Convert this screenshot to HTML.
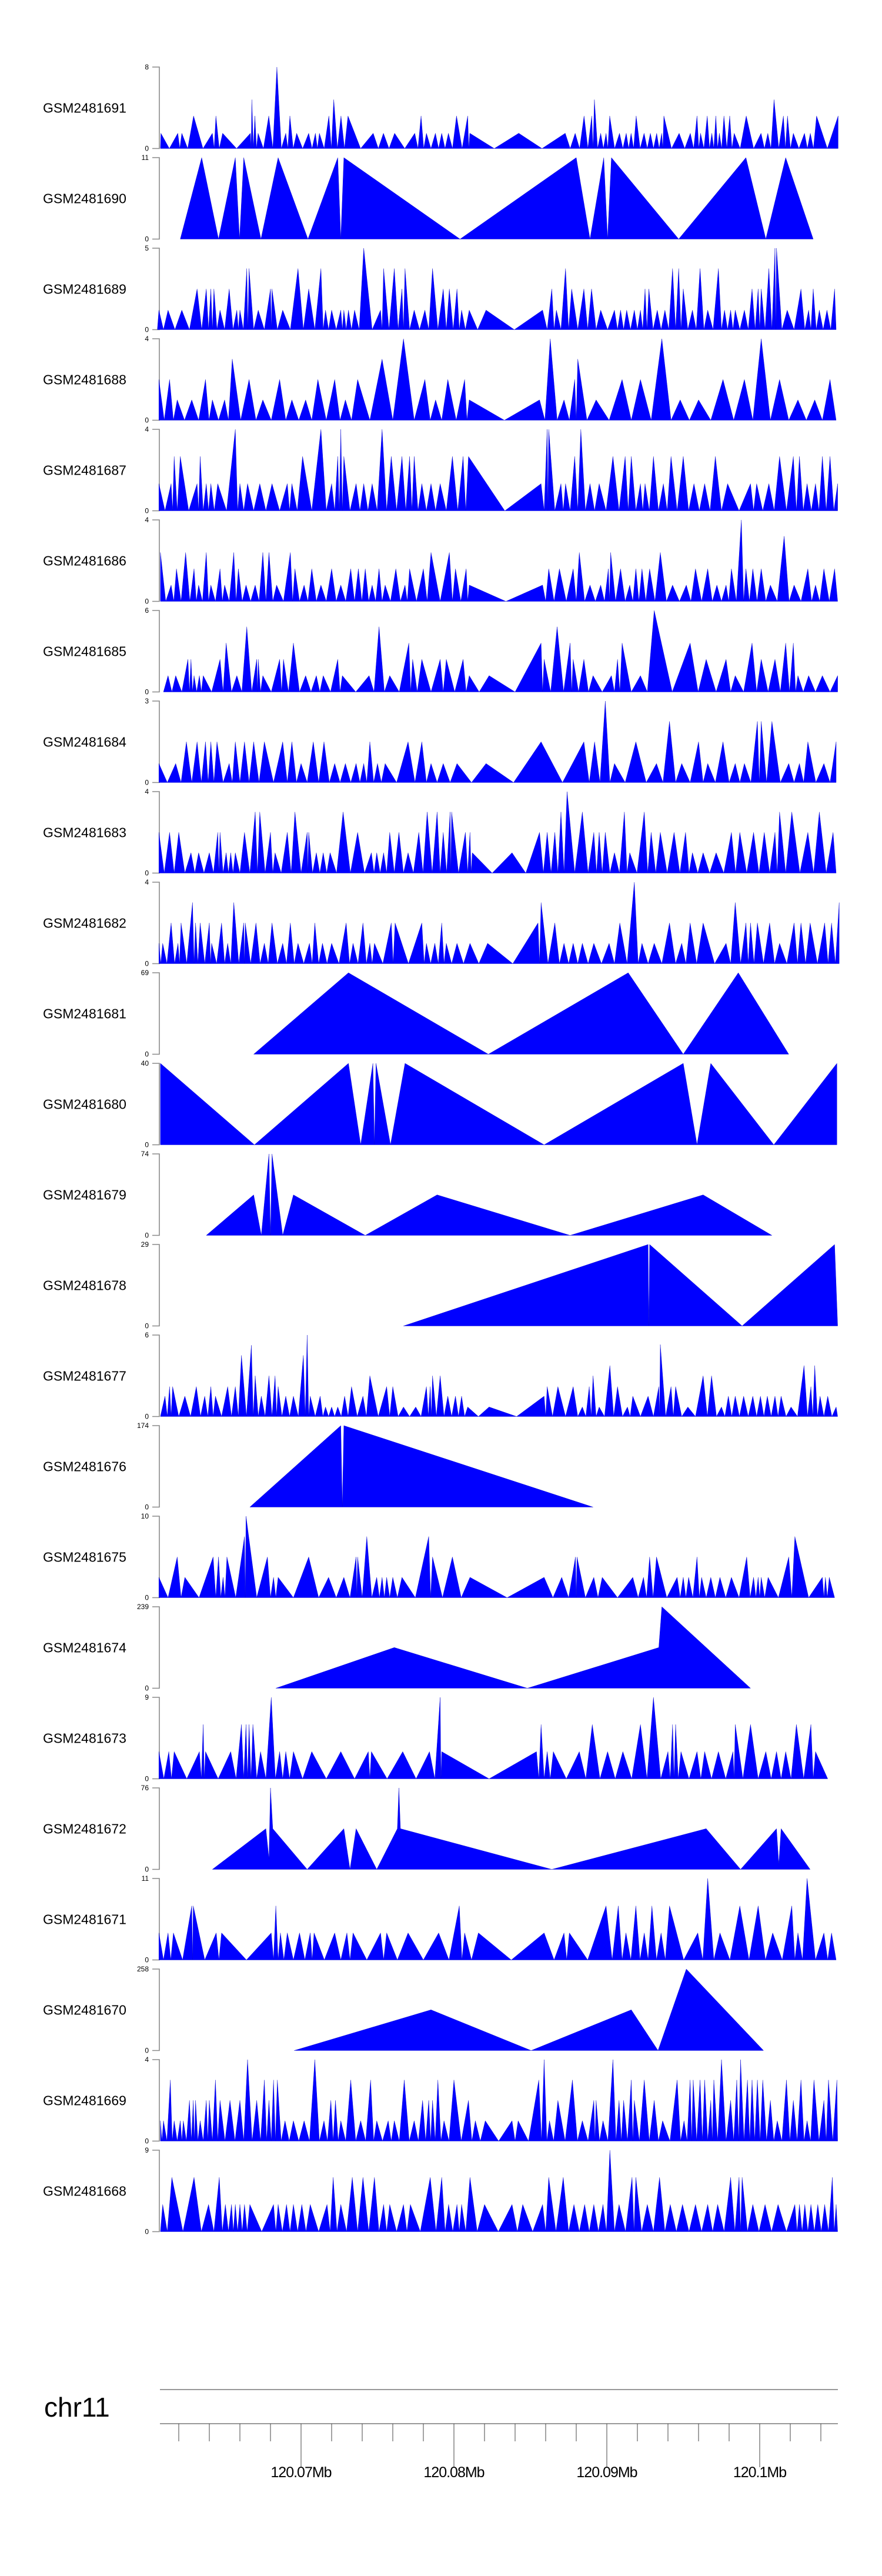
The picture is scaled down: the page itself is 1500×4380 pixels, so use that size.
<!DOCTYPE html>
<html><head><meta charset="utf-8"><title>Coverage tracks chr11</title>
<style>
html,body{margin:0;padding:0;background:#fff;}
svg{display:block;font-family:"Liberation Sans",Arial,sans-serif;}
</style></head>
<body>
<svg id="chart" width="1500" height="4380" viewBox="0 0 1500 4380" xmlns="http://www.w3.org/2000/svg">
<rect x="0" y="0" width="1500" height="4380" fill="#fff"/>
</svg>
<script>
// ---- data (positions in kb offset from 120,060,000; coverage values) ----
const trackNames = ["GSM2481691","GSM2481690","GSM2481689","GSM2481688","GSM2481687","GSM2481686","GSM2481685","GSM2481684","GSM2481683","GSM2481682","GSM2481681","GSM2481680","GSM2481679","GSM2481678","GSM2481677","GSM2481676","GSM2481675","GSM2481674","GSM2481673","GSM2481672","GSM2481671","GSM2481670","GSM2481669","GSM2481668"];
const yMax = [8,11,5,4,4,4,6,3,4,4,69,40,74,29,6,174,10,239,9,76,11,258,4,9];
const trackStart = [0.8,2.1,0.6,0.7,0.7,0.8,1.0,0.7,0.7,0.7,6.9,0.8,3.8,16.7,0.8,6.65,0.7,null,0.7,null,0.7,null,0.8,0.8];
const trackEnd = [45.13,43.5,45.0,45.0,45.1,45.1,45.1,45.0,45.0,45.2,41.9,45.05,40.8,45.1,45.1,29.1,44.9,null,44.45,null,45.0,null,45.1,45.1];
// explicit = polyline vertices given directly; otherwise zeros are placed between peaks
const explicitTracks = ["GSM2481674","GSM2481672","GSM2481670"];

const pos_1691 = [0.83,1.94,2.2,2.97,4.2,4.43,4.87,6.69,6.78,6.98, 7.19,7.89,8.42,9.0,9.27,9.71,10.5,10.94,11.2,11.82, 12.14,12.61,13.07,14.72,15.39,16.12,17.44,17.85,18.2,18.79, 19.2,19.64,20.17,20.9,21.04,24.24,27.28,27.93,28.51,29.01, 29.19,29.6,29.95,30.19,30.83,31.27,31.59,31.92,32.44,32.85, 33.26,33.59,33.73,34.73,35.46,35.9,36.13,36.57,36.87,37.13, 37.36,37.66,38.04,38.33,39.12,40.09,40.53,40.94,41.55,41.82, 42.2,42.93,43.31,43.72,45.13];
const cov_1691 = [1.5,1.5,1.5,3.2,1.5,3.2,1.5,1.5,4.8,3.2, 1.5,3.2,8,1.5,3.2,1.5,1.5,1.5,1.5,3.2, 4.8,3.2,3.2,1.5,1.5,1.5,1.5,3.2,1.5,1.5, 1.5,1.5,3.2,3.2,1.5,1.5,1.5,1.5,3.2,3.2, 4.8,1.5,1.5,3.2,1.5,1.5,1.5,3.2,1.5,1.5, 1.5,1.5,3.2,1.5,1.5,3.2,1.5,3.2,1.5,3.2, 1.5,3.2,3.2,1.5,3.2,1.5,1.5,4.8,3.2,3.2, 1.5,1.5,1.5,3.2,3.2];

const pos_1690 = [3.5,5.7,6.25,8.5,12.4,12.8,28.0,29.8,30.3,39.1,41.7];
const cov_1690 = [11,11,11,11,11,11,11,11,11,11,11];

const pos_1689 = [0.7,1.3,2.2,3.2,3.8,4.1,4.3,4.7,5.3,5.8, 6.0,6.45,6.6,7.2,8.0,8.1,8.8,9.8,10.5,11.3, 11.6,12.0,12.6,12.8,13.1,13.5,14.1,15.2,15.4,16.1, 16.6,16.8,17.4,18.1,18.6,19.3,19.7,20.2,20.5,21.0, 22.1,25.8,26.4,26.7,27.3,27.7,28.5,29.0,29.6,30.5, 30.9,31.3,31.8,32.2,32.5,32.75,33.3,33.8,34.3,34.7, 35.0,35.6,36.1,36.6,37.3,37.7,38.1,38.4,39.0,39.5, 39.9,40.1,40.6,41.0,41.1,41.8,42.7,43.2,43.5,43.9, 44.4,44.9];
const cov_1689 = [1.2,1.2,1.2,2.5,2.5,2.5,2.5,1.2,2.5,1.2, 1.2,3.75,3.75,1.2,2.5,2.5,1.2,3.75,2.5,3.75, 1.2,1.2,1.2,1.2,1.2,1.2,5,1.2,3.75,3.75, 2.5,3.75,1.2,1.2,3.75,2.5,2.5,2.5,1.2,1.2, 1.2,1.2,2.5,1.2,3.75,2.5,2.5,2.5,1.2,1.2, 1.2,1.2,1.2,1.2,2.5,2.5,1.2,1.2,3.75,3.75, 2.5,1.2,3.75,1.2,3.75,1.2,1.2,1.2,1.2,2.5, 2.5,2.5,3.75,5,5,1.2,2.5,1.2,2.5,1.2, 1.2,2.5];

const pos_1688 = [0.7,1.4,1.9,2.85,3.75,4.2,5.0,5.5,6.6,7.5, 8.6,9.4,10.3,11.1,12.2,12.9,13.7,15.3,16.7,18.1, 18.8,19.6,20.7,21.0,25.6,26.3,27.2,27.9,28.1,29.3, 31.0,32.2,33.6,34.8,36.0,37.6,39.0,40.1,41.3,42.5, 43.6,44.6];
const cov_1688 = [2,2,1,1,2,1,1,3,2,1, 2,1,1,2,2,1,2,3,4,2, 1,2,2,1,1,4,1,2,3,1, 2,2,4,1,1,2,2,4,2,1, 1,2];

const pos_1687 = [0.7,1.5,1.7,2.1,3.2,3.4,3.8,4.1,4.55,5.7, 6.0,6.5,7.3,8.1,9.1,9.4,10.1,11.3,12.0,12.4, 12.6,12.8,13.6,14.1,14.65,15.3,15.9,16.6,17.1,17.4, 17.9,18.5,19.1,19.9,20.6,20.95,25.7,26.1,26.2,27.0, 27.3,27.9,28.3,28.9,29.5,30.4,31.2,31.6,32.2,32.5, 33.05,33.7,34.2,35.0,35.7,36.4,37.1,37.9,39.4,39.8, 40.6,41.3,42.2,42.6,43.1,43.65,44.1,44.6,45.1];
const cov_1687 = [1.33,1.33,2.67,2.67,1.33,2.67,1.33,1.33,1.33,4, 1.33,1.33,1.33,1.33,1.33,1.33,2.67,4,1.33,2.67, 4,2.67,1.33,1.33,1.33,4,2.67,2.67,2.67,2.67, 1.33,1.33,1.33,2.67,2.67,2.67,1.33,4,4,1.33, 1.33,2.67,4,1.33,1.33,2.67,2.67,2.67,1.33,1.33, 2.67,1.33,2.67,2.67,1.33,1.33,2.67,1.33,1.33,1.33, 1.33,2.67,2.67,2.67,1.33,1.33,2.67,2.67,1.33];

const pos_1686 = [0.8,1.5,1.85,2.45,3.0,3.3,3.8,4.1,4.7,5.0, 5.6,5.9,6.4,7.0,7.5,7.9,8.4,9.3,9.6,10.2, 10.7,11.3,12.0,12.6,13.25,13.75,14.2,14.65,15.1,15.5, 16.2,16.8,17.1,18.0,18.5,19.7,20.1,20.8,21.0,25.8, 26.2,26.9,27.8,28.2,28.9,29.6,30.1,30.25,30.9,31.5, 31.9,32.3,32.8,33.5,34.3,35.2,35.8,36.6,37.2,37.8, 38.15,38.8,39.1,39.55,40.1,40.7,41.6,42.25,43.15,43.65, 44.2,44.9];
const cov_1686 = [2.4,0.8,1.6,2.4,1.6,0.8,2.4,0.8,1.6,0.8, 2.4,1.6,0.8,0.8,2.4,2.4,0.8,2.4,1.6,0.8, 1.6,0.8,1.6,0.8,1.6,1.6,1.6,0.8,1.6,0.8, 1.6,0.8,1.6,1.6,2.4,2.4,1.6,1.6,0.8,0.8, 1.6,1.6,1.6,2.4,0.8,0.8,1.6,2.4,1.6,0.8, 1.6,1.6,1.6,2.4,0.8,0.8,1.6,1.6,0.8,0.8, 1.6,4,1.6,1.6,1.6,0.8,3.2,0.8,1.6,0.8, 1.6,1.6];

const pos_1685 = [1.3,1.8,2.6,2.8,3.0,3.35,3.6,4.7,5.1,5.8, 6.45,7.1,7.2,7.5,8.6,8.85,9.5,10.3,11.0,11.45, 12.4,12.7,14.45,15.1,15.8,17.05,17.3,17.9,19.1,19.5, 20.6,21.0,22.3,25.7,25.9,26.75,27.6,27.8,28.5,29.1, 30.3,30.7,31.0,32.2,33.1,35.45,36.5,37.8,38.4,39.5, 40.1,41.0,41.7,42.2,42.5,43.2,44.1,45.1];
const cov_1685 = [1.2,1.2,2.4,2.4,1.2,1.2,1.2,2.4,3.6,1.2, 4.8,2.4,2.4,1.2,2.4,2.4,3.6,1.2,1.2,1.2, 2.4,1.2,1.2,4.8,1.2,3.6,2.4,2.4,2.4,2.4, 2.4,1.2,1.2,3.6,2.4,4.8,3.6,2.4,2.4,1.2, 1.2,2.4,3.6,1.2,6,3.6,2.4,2.4,1.2,3.6, 2.4,2.4,3.6,3.6,1.2,1.2,1.2,1.2];

const pos_1684 = [0.7,1.8,2.5,3.2,3.75,4.1,4.5,5.3,5.7,6.3, 6.9,7.6,8.8,9.4,10.0,10.8,11.5,12.2,12.9,13.6, 14.1,14.5,15.0,15.5,17.0,17.9,18.5,19.3,20.2,22.1, 25.7,28.5,29.2,29.9,30.5,31.9,33.25,34.1,34.9,36.0, 36.6,37.6,38.4,39.0,39.85,40.1,40.8,41.9,42.6,43.15, 44.2,45.0];
const cov_1684 = [0.7,0.7,1.5,1.5,1.5,1.5,1.5,0.7,1.5,1.5, 1.5,1.5,1.5,1.5,0.7,1.5,1.5,0.7,0.7,0.7, 0.7,1.5,0.7,0.7,1.5,1.5,0.7,0.7,0.7,0.7, 1.5,1.5,1.5,3,0.7,1.5,0.7,2.25,0.7,1.5, 0.7,1.5,0.7,0.7,2.25,2.25,2.25,0.7,0.7,1.5, 0.7,1.5];

const pos_1683 = [0.7,1.4,2.0,2.8,3.3,4.0,4.55,4.7,5.1,5.4, 5.7,6.3,7.0,7.3,8.0,8.3,9.1,9.6,10.4,10.5, 11.0,11.45,11.9,12.75,13.7,14.6,14.95,15.4,15.8,16.4, 17.0,17.7,18.25,18.9,19.3,19.75,19.85,20.75,21.05,21.2, 23.8,25.6,26.1,26.6,27.0,27.4,28.4,29.15,29.5,29.9, 30.5,31.15,31.5,32.45,32.9,33.5,34.4,35.15,35.6,36.3, 37.15,38.15,38.7,39.6,40.3,41.0,41.3,42.1,43.15,43.9, 44.8];
const cov_1683 = [2,2,2,1,1,1,2,2,1,1, 1,2,3,3,2,1,2,3,2,2, 1,1,1,3,2,1,1,1,2,2, 1,2,3,3,2,3,3,2,2,1, 1,2,2,2,3,4,3,2,2,2, 1,3,1,3,2,2,2,2,1,1, 1,2,2,2,2,2,3,3,2,3, 2];

const pos_1682 = [0.7,0.95,1.5,1.95,2.15,2.9,3.1,3.4,4.0,4.15, 4.8,5.2,5.6,6.25,6.35,7.05,7.6,8.1,8.8,9.3, 9.8,10.55,10.9,11.4,12.0,12.95,13.4,14.05,14.5,14.8, 15.9,16.15,17.9,18.2,18.75,19.2,19.5,20.2,21.05,22.2, 25.5,25.7,26.6,27.2,27.8,28.4,29.15,30.15,30.85,31.8, 32.3,33.1,34.1,34.9,35.45,36.3,37.8,38.4,39.1,39.4, 39.85,40.65,41.3,42.25,42.7,43.3,44.25,44.7,45.2];
const cov_1682 = [1,1,2,1,2,3,2,2,2,1, 2,1,3,2,2,2,1,2,1,2, 1,1,2,1,1,2,1,2,1,1, 2,2,2,1,1,2,1,1,1,1, 2,3,2,1,1,1,1,1,2,4, 1,1,2,1,2,2,1,3,2,2, 2,2,1,2,2,2,2,2,3];

const pos_1681 = [13.1,31.4,38.6];
const cov_1681 = [69,69,69];

const pos_1680 = [0.8,13.1,14.7,14.9,16.8,35.0,36.8,45.05];
const cov_1680 = [40,40,40,40,40,40,40,40];

const pos_1679 = [6.9,7.9,8.1,9.5,18.9,36.3];
const cov_1679 = [36.8,74,74,36.8,36.8,36.8];

const pos_1678 = [32.7,32.8,44.9];
const cov_1678 = [29,29,29];

const pos_1677 = [1.1,1.4,1.6,2.4,3.15,3.7,4.1,4.4,5.2,5.7, 6.1,6.75,7.0,7.4,7.9,8.3,8.5,9.0,9.5,10.15, 10.4,10.6,11.25,11.6,12.0,12.4,12.85,13.3,14.05,14.5, 15.6,16.0,16.7,17.5,18.2,18.45,18.6,19.1,19.6,20.1, 20.5,20.9,22.3,25.9,26.1,26.8,27.8,28.4,28.85,29.1, 29.5,30.2,30.7,31.35,31.7,32.7,33.4,33.5,34.2,34.5, 35.3,36.3,36.85,37.5,37.95,38.4,38.95,39.55,40.05,40.5, 41.0,41.4,42.05,42.9,43.35,43.6,43.95,44.45,45.0];
const cov_1677 = [1.5,2.2,2.2,1.5,2.2,1.5,2.2,1.5,2.2,2.2, 4.5,5.25,3,1.5,3,3,2.2,1.5,1.5,4.5, 6,1.5,1.5,0.7,0.7,0.7,1.5,2.2,1.5,3, 2.2,2.2,0.7,0.7,2.2,2.2,3,3,1.5,1.5, 1.5,0.7,0.7,1.5,2.2,2.2,2.2,0.7,2.2,3, 0.7,3.75,2.2,0.7,1.5,1.5,2.2,5.3,2.2,2.2, 0.7,3,3,0.7,1.5,1.5,1.5,1.5,1.5,1.5, 1.5,1.5,0.7,3.75,2.2,3.75,1.5,1.5,0.7];

const pos_1676 = [12.6,12.8];
const cov_1676 = [174,174];

const pos_1675 = [0.7,1.9,2.4,4.25,4.6,4.9,5.15,6.3,6.4,7.8, 8.2,8.5,10.5,11.8,12.8,13.6,13.7,14.3,14.95,15.3, 15.6,16.0,16.6,18.35,18.6,19.9,21.05,25.9,27.05,27.95, 28.05,29.15,29.7,31.7,32.4,32.8,33.25,34.6,35.0,35.35, 35.9,36.2,36.8,37.4,38.15,39.15,39.6,39.9,40.1,40.55, 41.9,42.3,44.1,44.3,44.55];
const cov_1675 = [2.5,5,2.5,5,5,2.5,5,7.5,10,5, 2.5,2.5,5,2.5,2.5,5,5,7.5,2.5,2.5, 2.5,2.5,2.5,7.5,5,5,2.5,2.5,2.5,5, 5,2.5,2.5,2.5,2.5,5,5,2.5,2.5,2.5, 5,2.5,2.5,2.5,2.5,5,2.5,2.5,2.5,2.5, 5,7.5,2.5,2.5,2.5];

const pos_1674 = [8.35,16.1,24.8,33.4,33.6,39.4];
const cov_1674 = [0,119.5,0,119.5,239,0];

const pos_1673 = [0.7,1.35,1.7,3.35,3.6,3.75,5.4,6.1,6.4,6.6, 6.85,7.35,8.05,8.6,9.0,9.5,10.7,12.6,14.4,14.6, 16.65,18.4,19.1,19.2,25.4,25.7,26.1,26.5,28.2,29.05, 30.05,31.05,32.2,33.05,34.0,34.3,34.5,34.85,35.9,36.4, 37.3,38.25,38.4,39.4,40.4,41.1,41.7,42.4,43.35,43.65];
const cov_1673 = [3,3,3,3,6,3,3,6,6,6, 6,3,9,3,3,3,3,3,3,3, 3,3,9,3,3,6,3,3,3,6, 3,3,6,9,3,6,6,3,3,3, 3,3,6,6,3,3,3,6,6,3];

const pos_1672 = [4.2,7.7,7.9,8.0,8.15,10.4,12.8,13.2,13.6,14.95,16.3,16.4,16.5,26.4,36.5,38.75,41.1,41.25,41.4,43.3];
const cov_1672 = [0,38,10,76,38,0,38,0,38,0,38,76,38,0,38,0,38,5,38,0];

const pos_1671 = [0.7,1.3,1.65,2.85,2.95,4.45,4.8,8.05,8.35,8.65, 9.1,9.9,10.6,10.85,12.2,13.0,13.4,15.2,15.6,17.0, 19.0,20.35,20.7,21.6,25.9,27.2,27.55,29.95,30.75,31.25, 31.9,32.45,32.95,33.55,34.1,35.95,36.6,37.4,38.7,39.9, 40.85,42.1,42.5,43.1,44.2,44.7];
const cov_1671 = [3.65,3.65,3.65,7.3,7.3,3.65,3.65,3.65,7.3,3.65, 3.65,3.65,3.65,3.65,3.65,3.65,3.65,3.65,3.65,3.65, 3.65,7.3,3.65,3.65,3.65,3.65,3.65,7.3,7.3,3.65, 7.3,3.65,7.3,3.65,7.3,3.65,11,3.65,7.3,7.3, 3.65,7.3,3.65,11,3.65,3.65];

const pos_1670 = [9.55,18.5,25.05,31.6,33.35,35.2,40.25];
const cov_1670 = [0,129,0,129,0,258,0];

const pos_1669 = [0.8,1.0,1.45,1.7,2.1,2.3,2.7,2.95,3.1,3.4, 3.8,4.0,4.4,4.7,5.35,6.0,6.5,7.1,7.6,7.9, 8.2,8.45,8.95,9.5,10.2,10.9,11.5,11.95,12.25,12.6, 13.25,13.9,14.55,14.95,15.7,16.1,16.75,17.4,17.95,18.35, 18.6,18.95,19.35,20.0,20.95,21.4,22.05,23.8,24.2,25.55, 25.9,26.25,26.8,27.75,28.4,29.15,29.3,29.75,30.4,30.8, 31.1,31.6,31.8,32.45,33.1,33.65,34.6,35.05,35.45,35.65, 36.1,36.4,36.8,37.0,37.5,38.1,38.5,38.75,39.2,39.5, 39.85,40.2,40.7,41.15,41.75,42.2,42.7,43.1,43.55,44.2, 44.5,45.05];
const cov_1669 = [1,1,3,1,1,1,2,2,2,1, 2,2,3,2,2,2,4,2,3,2, 3,3,1,1,1,4,1,2,2,1, 3,1,3,1,1,1,3,1,2,2, 2,3,1,3,2,1,1,1,1,3, 4,1,2,3,1,2,2,1,4,2, 2,3,2,3,2,1,3,1,3,3, 3,3,2,3,4,2,3,4,3,3, 3,3,2,1,3,2,3,1,3,2, 3,3];

const pos_1668 = [0.95,1.55,3.0,3.95,4.65,5.05,5.45,5.7,6.0,6.3, 6.65,8.2,8.5,9.05,9.5,10.05,10.6,11.7,12.1,12.6, 13.35,14.05,14.8,15.4,15.8,16.7,17.15,18.45,19.2,19.65, 20.2,20.5,21.05,22.0,23.8,24.5,25.8,26.2,27.15,27.85, 28.55,29.15,29.75,30.2,30.8,31.65,31.9,32.65,33.45,34.15, 34.95,35.8,36.6,37.25,38.1,38.65,38.85,39.55,40.35,41.2, 42.3,42.6,42.95,43.35,43.8,44.25,44.75,45.0];
const cov_1668 = [3,6,6,3,6,3,3,3,3,3, 3,3,3,3,3,3,3,3,6,3, 6,6,6,3,3,3,3,6,6,3, 3,3,6,3,3,3,3,6,6,3, 3,3,3,9,3,6,6,3,6,3, 3,3,3,3,6,6,6,3,3,3, 3,3,3,3,3,3,6,3];

const rulerTicksKb = [2,4,6,8,10,12,14,16,18,20,22,24,26,28,30,32,34,36,38,40,42,44];
const rulerLabels = ["120.07Mb","120.08Mb","120.09Mb","120.1Mb"];
const rulerLabelKb = [10,20,30,40];

const trackPos = [pos_1691,pos_1690,pos_1689,pos_1688,pos_1687,pos_1686,pos_1685,pos_1684,pos_1683,pos_1682,pos_1681,pos_1680,pos_1679,pos_1678,pos_1677,pos_1676,pos_1675,pos_1674,pos_1673,pos_1672,pos_1671,pos_1670,pos_1669,pos_1668];
const trackCov = [cov_1691,cov_1690,cov_1689,cov_1688,cov_1687,cov_1686,cov_1685,cov_1684,cov_1683,cov_1682,cov_1681,cov_1680,cov_1679,cov_1678,cov_1677,cov_1676,cov_1675,cov_1674,cov_1673,cov_1672,cov_1671,cov_1670,cov_1669,cov_1668];

// ---- layout ----
const NS = "http://www.w3.org/2000/svg";
const svg = document.getElementById("chart");
const TOP0 = 114, PITCH = 154, TH = 138.5, AXX = 271;
function xScale(kb){ return 512 + (kb - 10) * 26.0; }
function mk(tag, attrs, parent){
  const e = document.createElementNS(NS, tag);
  for (const k in attrs) e.setAttribute(k, attrs[k]);
  (parent || svg).appendChild(e);
  return e;
}

trackNames.forEach(function(name, i){
  const top = TOP0 + PITCH * i, base = top + TH;
  const yS = function(v){ return base - v / yMax[i] * TH; };
  const g = mk("g", {});
  
  

  const lab = mk("text", {x: 73, y: top + TH/2 + 8, "font-size": 23, fill: "#000"}, g);
  lab.textContent = name;
  
  

  const ax = mk("path", {d: "M259," + top + "H" + AXX + "V" + base + "H259", fill: "none", stroke: "#8a8a8a", "stroke-width": 1.6}, g);
  
  

  const tMax = mk("text", {x: 253, y: top + 4, "font-size": 12, "text-anchor": "end", fill: "#000"}, g);
  tMax.textContent = String(yMax[i]);
  
  
  const tMin = mk("text", {x: 253, y: base + 4, "font-size": 12, "text-anchor": "end", fill: "#000"}, g);
  tMin.textContent = "0";
  
  

  const P = trackPos[i], C = trackCov[i];
  const n = Math.min(P.length, C.length);
  const pts = [];
  if (explicitTracks.indexOf(name) >= 0) {
    for (let j = 0; j < n; j++) pts.push([P[j], C[j]]);
  } else {
    pts.push([trackStart[i], 0]);
    for (let j = 0; j < n; j++) {
      if (j > 0) pts.push([(P[j-1] + P[j]) / 2, 0]);
      pts.push([P[j], C[j]]);
    }
    pts.push([trackEnd[i], 0]);
  }
  let d = "M" + xScale(pts[0][0]).toFixed(1) + "," + base;
  pts.forEach(function(p){ d += "L" + xScale(p[0]).toFixed(1) + "," + yS(p[1]).toFixed(1); });
  d += "L" + xScale(pts[pts.length-1][0]).toFixed(1) + "," + base + "Z";
  const area = mk("path", {d: d, fill: "#0000ff", stroke: "#0000cc", "stroke-width": 0.4}, g);
  
  
});

// ---- genome ruler ----
const rg = mk("g", {});


const chr = mk("text", {x: 75, y: 4109, "font-size": 46, fill: "#000"}, rg);
chr.textContent = "chr11";


const l1 = mk("line", {x1: 272, x2: 1425, y1: 4063, y2: 4063, stroke: "#999", "stroke-width": 2}, rg);


const l2 = mk("line", {x1: 272, x2: 1425, y1: 4121, y2: 4121, stroke: "#999", "stroke-width": 2}, rg);


rulerTicksKb.forEach(function(kb){
  const major = rulerLabelKb.indexOf(kb) >= 0;
  const t = mk("line", {x1: xScale(kb), x2: xScale(kb), y1: 4121, y2: major ? 4195 : 4151, stroke: "#444", "stroke-width": 1}, rg);
  
  
});
rulerLabels.forEach(function(s, k){
  const t = mk("text", {x: xScale(rulerLabelKb[k]), y: 4212, "font-size": 25, "text-anchor": "middle", fill: "#000", "letter-spacing": "-1"}, rg);
  t.textContent = s;
  
  
});
</script>
</body></html>
